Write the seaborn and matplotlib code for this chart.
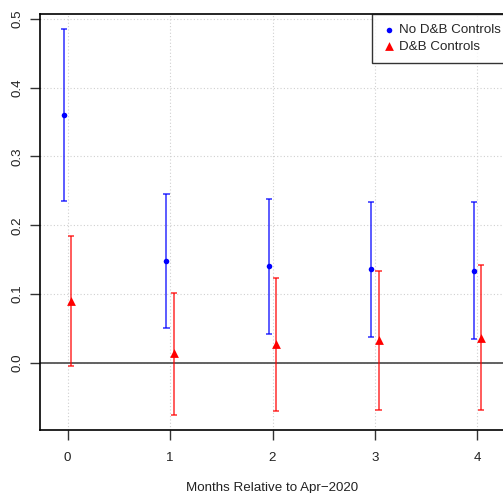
import numpy as np
import pandas as pd
import matplotlib
matplotlib.use("Agg")
import matplotlib.pyplot as plt
import seaborn as sns

# -----------------------------------
# DATA
# -----------------------------------

months = [0, 1, 2, 3, 4]

no_db_est = [0.360, 0.148, 0.141, 0.136, 0.134]
no_db_lo = [0.235, 0.051, 0.042, 0.038, 0.035]
no_db_hi = [0.485, 0.245, 0.238, 0.234, 0.234]

db_est = [0.090, 0.014, 0.028, 0.033, 0.036]
db_lo = [-0.005, -0.076, -0.070, -0.069, -0.069]
db_hi = [0.185, 0.102, 0.123, 0.134, 0.142]

series_names = ["No D&B Controls", "D&B Controls"]
x_label = "Months Relative to Apr\u22122020"

# -----------------------------------
# BUILD TABLE
# -----------------------------------

offset = 0.035
df = pd.concat([
    pd.DataFrame({"month": months, "x": np.array(months) - offset, "est": no_db_est,
                  "lo": no_db_lo, "hi": no_db_hi, "model": series_names[0]}),
    pd.DataFrame({"month": months, "x": np.array(months) + offset, "est": db_est,
                  "lo": db_lo, "hi": db_hi, "model": series_names[1]}),
], ignore_index=True)

colors = {series_names[0]: "#0000ff", series_names[1]: "#ff0000"}
markers = {series_names[0]: "o", series_names[1]: "^"}
sizes = {series_names[0]: 16, series_names[1]: 40}

# -----------------------------------
# PLOT
# -----------------------------------

sns.set_style("white")
plt.rcParams["font.family"] = ["Liberation Sans", "DejaVu Sans"]
plt.rcParams["font.size"] = 9.6

fig = plt.figure(figsize=(5.03, 4.93), dpi=100)
ax = fig.add_axes([40 / 503, 63 / 493, 465 / 503, 416 / 493])

ax.set_xlim(-0.27, 4.27)
ax.set_ylim(-0.0974, 0.507)

ax.grid(True, color="#d0d0d0", linestyle=(0, (1, 2)), linewidth=0.8)
ax.set_axisbelow(True)
ax.axhline(0, color="#555555", linewidth=1.3, zorder=1)

cap = 0.03
for name, grp in df.groupby("model", sort=False):
    c = colors[name]
    ax.vlines(grp["x"], grp["lo"], grp["hi"], color=c, alpha=0.75, linewidth=1.2, zorder=2)
    ax.hlines(grp["lo"], grp["x"] - cap, grp["x"] + cap, color=c, alpha=0.75, linewidth=1.2, zorder=2)
    ax.hlines(grp["hi"], grp["x"] - cap, grp["x"] + cap, color=c, alpha=0.75, linewidth=1.2, zorder=2)

for name, grp in df.groupby("model", sort=False):
    sns.scatterplot(data=grp, x="x", y="est", color=colors[name], marker=markers[name],
                    s=sizes[name], linewidth=0, ax=ax, zorder=3, label=name)

ax.set_xticks(months)
ax.set_xticklabels([str(m) for m in months])
ax.set_yticks([0.0, 0.1, 0.2, 0.3, 0.4, 0.5])
ax.set_yticklabels(["0.0", "0.1", "0.2", "0.3", "0.4", "0.5"], rotation=90, va="center")
ax.tick_params(axis="both", bottom=True, left=True, direction="out", length=7, width=1,
               color="#333333", labelsize=9.6, labelcolor="#222222")
ax.tick_params(axis="y", pad=5)
ax.tick_params(axis="x", pad=9)

ax.set_xlabel(x_label, fontsize=9.6, color="#222222", labelpad=13)
ax.set_ylabel("")

for side in ["left", "bottom", "top"]:
    ax.spines[side].set_color("black")
    ax.spines[side].set_linewidth(1.2)
ax.spines["right"].set_visible(False)

leg = ax.legend(loc="upper left", bbox_to_anchor=(372 / 503, 1 - 14 / 493),
                bbox_transform=fig.transFigure, frameon=True, fancybox=False,
                borderaxespad=0, borderpad=0.75, handletextpad=0.3, labelspacing=0.3,
                handlelength=1.0, fontsize=9.6)
leg.get_frame().set_edgecolor("black")
leg.get_frame().set_linewidth(1.0)

fig.savefig("out.png", dpi=100)
